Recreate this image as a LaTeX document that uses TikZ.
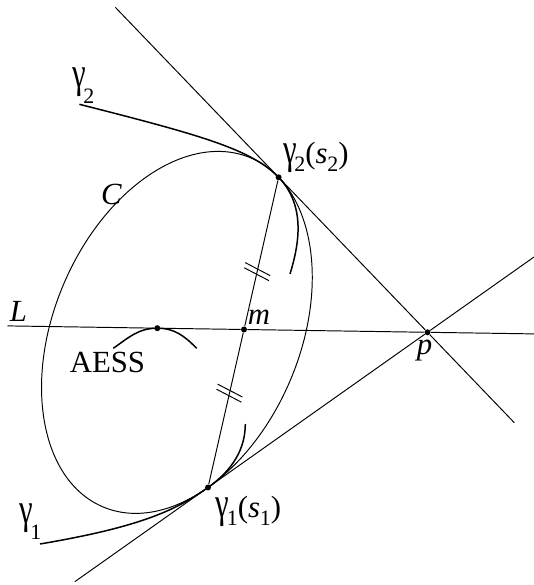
\documentclass[tikz,border=0pt]{standalone}
\usepackage{fontspec}
\setmainfont{Liberation Serif}
\usepackage{graphicx}
\usepackage{tikz}
\newcommand\gsym{\scalebox{1}[1.4]{γ}}
\newcommand\lowsub[2][4.8pt]{\raisebox{-#1}{\fontsize{12.5}{13}\selectfont #2}}

\begin{document}
\begin{tikzpicture}[
  x=0.02cm, y=0.02cm,
  dot/.style={circle, fill=black, inner sep=0pt, minimum size=3.4pt},
  lbl/.style={inner sep=0pt, font=\fontsize{17.5}{20}\selectfont},
  thinline/.style={line width=0.55pt},
  curve/.style={line width=0.85pt}
]
  \useasboundingbox (0,0) rectangle (534,585);

  \node[dot] (g2) at (278.6,407.7) {};
  \node[dot] (g1) at (208,97.5) {};
  \node[dot] (m) at (244,255.5) {};
  \node[dot] (p) at (427.5,252.7) {};
  \node[dot] (aess) at (157.3,256.8) {};

  \coordinate (ua) at (115.3,577.7);
  \coordinate (ub) at (514.3,162.3);
  \coordinate (la) at (74.8,3.3);
  \coordinate (lb) at (534,328);
  \coordinate (La) at (7.5,259.1);
  \coordinate (Lb) at (534,251.1);
  \coordinate (c2a) at (79.4,480.7);
  \coordinate (c2b) at (290,311);
  \coordinate (c1a) at (40,41);
  \coordinate (c1b) at (245.3,161);
  \coordinate (ea) at (113.3,236.7);
  \coordinate (eb) at (196.7,236.7);

  % the ellipse C
  \draw[thinline, rotate around={67:(176.9,252.6)}] (176.9,252.6) ellipse [x radius=189.5, y radius=123.1];

  % tangents, chord and L
  \draw[thinline] (ua) -- (g2) -- (p) -- (ub);
  \draw[thinline] (la) -- (g1) -- (p) -- (lb);
  \draw[thinline] (La) -- (aess) -- (m) -- (p) -- (Lb);
  \draw[thinline] (g2) -- (m) -- (g1);

  % the two curves
  \draw[curve] (c2a) .. controls (200,450) and (251,436) .. (g2.center)
    .. controls (306.4,378.9) and (298.8,339.7) .. (c2b);
  \draw[curve] (c1a) .. controls (140,58) and (175.3,74.4) .. (g1.center)
    .. controls (232.5,114.8) and (245.3,136) .. (c1b);
  \draw[curve] (ea) to[out=35, in=180] (aess.center) to[out=0, in=135] (eb);

  % equal halves
  \path (g2) -- (g1) coordinate[pos=0.3] (h1) coordinate[pos=0.7] (h2);
  \foreach \h in {h1,h2}
    \foreach \d in {-2.6,2.6}
      \draw[thinline] ([shift={(77.2:\d)}]\h) ++(152.5:14) -- ++(-27.5:28);

  \node[lbl, anchor=base west] (tg2) at (72,497) {\gsym\kern-1.5pt\lowsub[9pt]{2}};
  \node[lbl, anchor=base west] (tg1) at (19,61) {\gsym\kern-1.5pt\lowsub[9pt]{1}};
  \node[lbl, anchor=base west] (tg2s) at (283,421.7) {\gsym\kern-1.5pt\lowsub{2}(\textit{s}\lowsub{2})};
  \node[lbl, anchor=base west] (tg1s) at (215.5,67.5) {\gsym\kern-1.5pt\lowsub{1}(\textit{s}\lowsub{1})};
  \node[lbl, anchor=base] (tC) at (111.5,380) {\textit{C}};
  \node[lbl, anchor=base] (tL) at (18.5,263.3) {\textit{L}};
  \node[lbl, anchor=base] (tm) at (259,260) {\textit{m}};
  \node[lbl, anchor=base] (tp) at (424.5,230.5) {\textit{p}};
  \node[lbl, anchor=base] (taess) at (107.4,212.3) {AESS};
\end{tikzpicture}
\end{document}
